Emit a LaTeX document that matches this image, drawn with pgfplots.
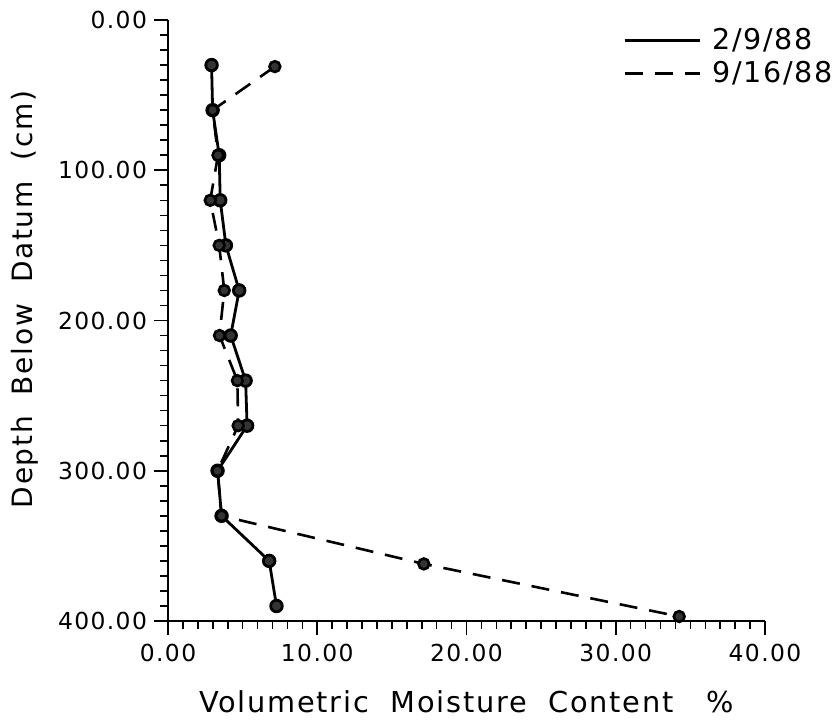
\documentclass[border=0pt]{standalone}
\usepackage{fontspec}
\setmainfont{DejaVu Sans}
\newfontfamily\spaced{DejaVu Sans}[LetterSpace=6]
\usepackage{pgfplots}
\pgfplotsset{compat=1.18}
\begin{document}
\begin{tikzpicture}
\begin{axis}[
  scale only axis, width=298.5pt, height=300.5pt,
  xmin=0, xmax=40, ymin=0, ymax=400,
  y dir=reverse,
  axis lines=left,
  axis line style={-, line width=1pt},
  xtick={0,10,20,30,40}, ytick={0,100,200,300,400},
  minor x tick num=9, minor y tick num=9,
  tick align=outside,
  major tick length=7pt, minor tick length=3.8pt,
  every tick/.style={black, line width=0.8pt},
  /pgf/number format/fixed,
  /pgf/number format/fixed zerofill,
  /pgf/number format/precision=2,
  /pgf/number format/1000 sep={},
  /pgf/number format/assume math mode=true,
  tick label style={font=\spaced\fontsize{11.7}{14}\selectfont},
  xticklabel style={yshift=-1pt},
  xlabel={Volumetric\ \ Moisture\ \ Content\ \ \ \%},
  xlabel style={font=\spaced\fontsize{14.4}{16}\selectfont, at={(axis description cs:0.5,-0.1514)}, anchor=base},
  ylabel={Depth\ \ Below\ \ Datum\ \ (cm)},
  ylabel style={font=\spaced\fontsize{14}{16}\selectfont, at={(axis description cs:-0.2278,0.535)}, anchor=base},
  legend style={draw=none, fill=none, at={(axis description cs:0.762,0.995)}, anchor=north west,
    font=\spaced\fontsize{14.3}{16}\selectfont, row sep=-0.5pt, column sep=3.5pt, inner sep=0pt,
    nodes={text height=11pt, text depth=2pt}},
  legend cell align=left,
  legend image code/.code={\draw[#1] (0pt,0pt) -- (37.5pt,0pt);},
]
\addplot[black, line width=1.4pt, mark=*, mark size=2.9pt, mark options={solid, fill=black!80}]
coordinates {(2.92,30) (2.99,60) (3.43,90) (3.50,120) (3.88,150) (4.77,180) (4.20,210)
 (5.20,240) (5.30,270) (3.32,300) (3.59,330) (6.78,360) (7.27,390)};
\addlegendentry{2/9/88}
\addplot[black, line width=1.3pt, dash pattern=on 9pt off 6pt, mark=*, mark size=2.7pt, mark options={solid, fill=black!80}]
coordinates {(7.16,31) (2.99,60) (3.35,90) (2.83,120) (3.43,150) (3.77,180) (3.45,210)
 (4.65,240) (4.70,270) (3.32,300) (3.59,330) (17.14,362) (34.25,397)};
\addlegendentry{9/16/88}
\coordinate (bl) at (axis description cs:0,0);
\coordinate (tr) at (axis description cs:1,1);
\end{axis}
\pgfresetboundingbox
\path[use as bounding box] ([shift={(-84pt,-53pt)}]bl) rectangle ([shift={(34pt,10pt)}]tr);
\end{tikzpicture}
\end{document}
